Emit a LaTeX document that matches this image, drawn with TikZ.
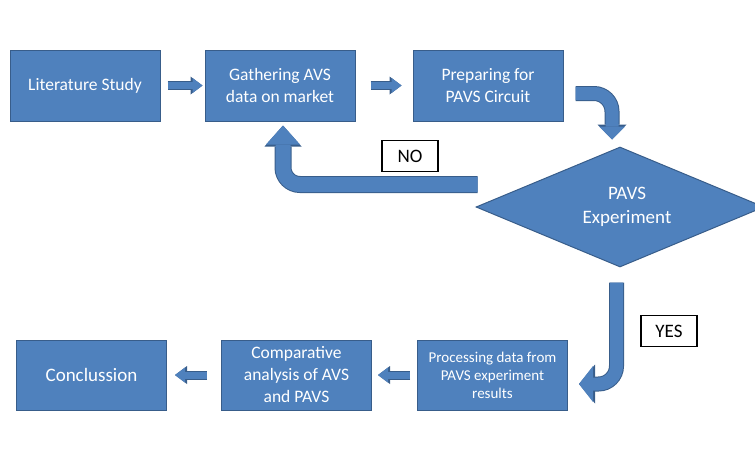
\documentclass[tikz,border=0pt]{standalone}
\usepackage{fontspec}
\setmainfont{Carlito}
\usepackage{xcolor}
\usetikzlibrary{positioning, arrows.meta, shapes.geometric}

\definecolor{boxblue}{RGB}{79,129,189}
\definecolor{boxedge}{RGB}{56,93,138}

\begin{document}
\begin{tikzpicture}[
        x=1pt, y=-1pt,
        stepbox/.style={rectangle, draw=boxedge, fill=boxblue, line width=1pt,
          text=white, minimum width=150pt, minimum height=71pt, inner sep=2pt,
          align=center, font=\fontsize{17.5}{22}\selectfont},
        decision/.style={diamond, aspect=2.4, draw=boxedge, fill=boxblue,
          line width=1pt, text=white, minimum width=288pt, minimum height=120pt,
          inner sep=0pt, align=center, font=\fontsize{19}{24}\selectfont},
        answer/.style={rectangle, draw=black, line width=1.5pt, fill=white,
          minimum width=56pt, minimum height=31pt, inner sep=0pt,
          font=\fontsize{19}{22}\selectfont},
        flow/.style={draw=boxblue, line width=7pt,
          -{Triangle[width=15pt, length=10pt, line width=0pt]},
          preaction={draw=boxedge, line width=9pt,
            -{Triangle[width=18pt, length=12pt, line width=0pt]}}},
        bent/.style={draw=boxblue, rounded corners=#1},
      ]

      \useasboundingbox (0,0) rectangle (755,466);
      \clip (0,0) rectangle (755,466);

      % top row
      \node[stepbox] (lit) at (85,85.5) {Literature Study};
      \node[stepbox, right=44pt of lit] (gath) {Gathering AVS\\data on market};
      \node[stepbox, right=57pt of gath] (prep) {Preparing for\\PAVS Circuit};

      \node[decision] (exp) at (620,207) {\hspace*{14pt}PAVS\\\hspace*{14pt}Experiment};

      % bottom row
      \node[stepbox, minimum height=70pt, font=\fontsize{15}{18}\selectfont]
        (proc) at (492.5,375) {Processing data from\\PAVS experiment\\results};
      \node[stepbox, minimum height=70pt, left=45pt of proc]
        (comp) {Comparative\\analysis of AVS\\and PAVS};
      \node[stepbox, minimum height=70pt, font=\fontsize{19}{24}\selectfont,
        left=54pt of comp] (concl) {Conclussion};

      \node[answer] (no) at (410,156) {NO};
      \node[answer] (yes) at (669,331) {YES};

      \draw[flow, shorten <=7pt, shorten >=2pt] (lit) -- (gath);
      \draw[flow, shorten <=15pt, shorten >=11pt] (gath) -- (prep);
      \draw[flow, shorten <=7pt, shorten >=6pt] (proc) -- (comp);
      \draw[flow, shorten <=14pt, shorten >=8pt] (comp) -- (concl);

      \draw[bent=18pt, line width=13pt,
        -{Triangle[width=26pt, length=13pt, line width=0pt]},
        preaction={draw=boxedge, line width=15pt,
          -{Triangle[width=29pt, length=15pt, line width=0pt]}}]
        ([xshift=12pt, yshift=-8pt]prep.east) -| ([xshift=-8pt, yshift=7pt]exp.north);
      \draw[bent=17pt, line width=15pt,
        -{Triangle[width=34pt, length=19pt, line width=0pt]},
        preaction={draw=boxedge, line width=17pt,
          -{Triangle[width=37pt, length=21pt, line width=0pt]}}]
        ([xshift=2pt, yshift=22.5pt]exp.west) -| ([xshift=3pt, yshift=-4pt]gath.south);
      \draw[bent=18pt, line width=13pt,
        -{Triangle[width=36pt, length=14pt, line width=0pt]},
        preaction={draw=boxedge, line width=15pt,
          -{Triangle[width=39pt, length=16pt, line width=0pt]}}]
        ([xshift=-3.5pt, yshift=-15pt]exp.south) |- ([xshift=11pt, yshift=-9pt]proc.east);
    \end{tikzpicture}
\end{document}
